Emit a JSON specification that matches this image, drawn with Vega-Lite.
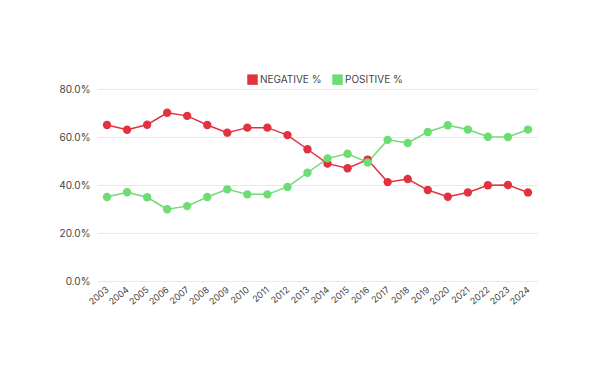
{
  "$schema": "https://vega.github.io/schema/vega-lite/v6.json",
  "width": 441,
  "height": 192,
  "autosize": "none",
  "padding": {"left": 97, "top": 89, "right": 74, "bottom": 86},
  "background": "white",
  "config": {
    "font": "Inter",
    "view": {"stroke": null}
  },
  "data": {
    "values": [
      {"year": "2003", "series": "NEGATIVE %", "value": 65.0},
      {"year": "2004", "series": "NEGATIVE %", "value": 63.0},
      {"year": "2005", "series": "NEGATIVE %", "value": 65.1},
      {"year": "2006", "series": "NEGATIVE %", "value": 70.1},
      {"year": "2007", "series": "NEGATIVE %", "value": 68.8},
      {"year": "2008", "series": "NEGATIVE %", "value": 65.0},
      {"year": "2009", "series": "NEGATIVE %", "value": 61.8},
      {"year": "2010", "series": "NEGATIVE %", "value": 63.9},
      {"year": "2011", "series": "NEGATIVE %", "value": 63.9},
      {"year": "2012", "series": "NEGATIVE %", "value": 60.8},
      {"year": "2013", "series": "NEGATIVE %", "value": 54.9},
      {"year": "2014", "series": "NEGATIVE %", "value": 48.9},
      {"year": "2015", "series": "NEGATIVE %", "value": 47.0},
      {"year": "2016", "series": "NEGATIVE %", "value": 50.6},
      {"year": "2017", "series": "NEGATIVE %", "value": 41.2},
      {"year": "2018", "series": "NEGATIVE %", "value": 42.5},
      {"year": "2019", "series": "NEGATIVE %", "value": 37.9},
      {"year": "2020", "series": "NEGATIVE %", "value": 35.1},
      {"year": "2021", "series": "NEGATIVE %", "value": 36.9},
      {"year": "2022", "series": "NEGATIVE %", "value": 39.9},
      {"year": "2023", "series": "NEGATIVE %", "value": 40.0},
      {"year": "2024", "series": "NEGATIVE %", "value": 36.9},
      {"year": "2003", "series": "POSITIVE %", "value": 35.0},
      {"year": "2004", "series": "POSITIVE %", "value": 37.0},
      {"year": "2005", "series": "POSITIVE %", "value": 34.9},
      {"year": "2006", "series": "POSITIVE %", "value": 29.9},
      {"year": "2007", "series": "POSITIVE %", "value": 31.2},
      {"year": "2008", "series": "POSITIVE %", "value": 35.0},
      {"year": "2009", "series": "POSITIVE %", "value": 38.2},
      {"year": "2010", "series": "POSITIVE %", "value": 36.1},
      {"year": "2011", "series": "POSITIVE %", "value": 36.1},
      {"year": "2012", "series": "POSITIVE %", "value": 39.2},
      {"year": "2013", "series": "POSITIVE %", "value": 45.1},
      {"year": "2014", "series": "POSITIVE %", "value": 51.1},
      {"year": "2015", "series": "POSITIVE %", "value": 53.0},
      {"year": "2016", "series": "POSITIVE %", "value": 49.4},
      {"year": "2017", "series": "POSITIVE %", "value": 58.8},
      {"year": "2018", "series": "POSITIVE %", "value": 57.5},
      {"year": "2019", "series": "POSITIVE %", "value": 62.1},
      {"year": "2020", "series": "POSITIVE %", "value": 64.9},
      {"year": "2021", "series": "POSITIVE %", "value": 63.1},
      {"year": "2022", "series": "POSITIVE %", "value": 60.1},
      {"year": "2023", "series": "POSITIVE %", "value": 60.0},
      {"year": "2024", "series": "POSITIVE %", "value": 63.1}
    ]
  },
  "encoding": {
    "x": {
      "field": "year",
      "type": "ordinal",
      "scale": {"type": "point", "padding": 0.5},
      "axis": {
        "title": null,
        "labelAngle": -40,
        "labelAlign": "right",
        "labelBaseline": "middle",
        "labelFontSize": 9,
        "labelColor": "#444",
        "labelPadding": 7,
        "domain": false,
        "ticks": false,
        "grid": false
      }
    },
    "y": {
      "field": "value",
      "type": "quantitative",
      "scale": {"domain": [0, 80], "nice": false},
      "axis": {
        "title": null,
        "values": [0, 20, 40, 60, 80],
        "labelExpr": "format(datum.value, '.1f') + '%'",
        "labelFontSize": 10,
        "labelColor": "#444",
        "labelPadding": 7,
        "domain": false,
        "ticks": false,
        "gridColor": "#e8e8e8",
        "gridWidth": 1
      }
    },
    "color": {
      "field": "series",
      "type": "nominal",
      "scale": {"domain": ["NEGATIVE %", "POSITIVE %"], "range": ["#e2323f", "#6ddc74"]},
      "legend": {
        "title": null,
        "orient": "none",
        "legendX": 150,
        "legendY": -15,
        "direction": "horizontal",
        "symbolType": "square",
        "symbolSize": 110,
        "symbolOpacity": 1,
        "symbolStrokeWidth": 0,
        "labelFontSize": 10,
        "labelColor": "#444",
        "labelOffset": 2,
        "columnPadding": 10
      }
    }
  },
  "layer": [
    {"mark": {"type": "line", "strokeWidth": 1.5}},
    {"mark": {"type": "circle", "size": 70, "opacity": 1}}
  ]
}
